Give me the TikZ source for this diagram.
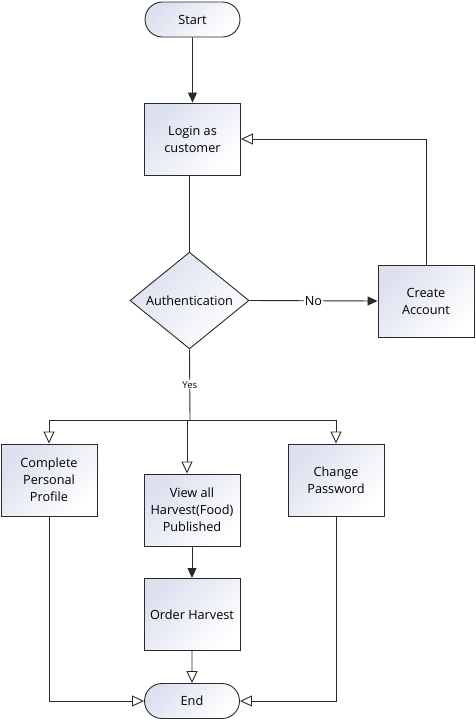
\documentclass[tikz,border=0pt]{standalone}
\usepackage{fontspec}
\setmainfont{Open Sans}
\usetikzlibrary{shapes.misc,shapes.geometric,arrows.meta}
\definecolor{lav}{HTML}{DCE0EF}
\definecolor{ln}{HTML}{2A2A2A}
\tikzset{
  x=1pt,y=-1pt,
  base/.style={draw=ln,line width=0.9pt,shading=axis,left color=lav,right color=white,shading angle=45,font=\fontsize{12.7}{17}\selectfont,align=center,inner sep=0pt},
  procbox/.style={base,rectangle,minimum width=96,minimum height=72},
  term/.style={base,rounded rectangle,minimum width=95,minimum height=35},
  decide/.style={base,diamond,minimum width=119,minimum height=95},
  conn/.style={draw=ln,line width=0.9pt},
  filled/.style={conn,-{Triangle[length=10pt,width=9pt]}},
  hollow/.style={conn,-{Triangle[open,length=12pt,width=11pt,fill=white]}},
  lbl/.style={fill=white,inner sep=1pt}
}
\begin{document}
\begin{tikzpicture}
\useasboundingbox[fill=white] (0,0) rectangle (475,721);
\node[term] (start) at (192.5,19.5) {Start};
\node[procbox] (login) at (192.5,139) {Login as\\customer};
\node[decide] (auth) at (189.5,300.5) {Authentication};
\node[procbox] (create) at (426,301) {Create\\Account};
\node[procbox] (profile) at (49,480) {Complete\\Personal\\Profile};
\node[procbox] (view) at (192,510) {View all\\Harvest(Food)\\Published};
\node[procbox] (change) at (336,480) {Change\\Password};
\node[procbox] (order) at (192,614.5) {Order Harvest};
\node[term] (end) at (192,701) {End};
\coordinate (j) at (190,420);
\coordinate (jl) at (49,420);
\coordinate (jr) at (336,420);
\coordinate (jv) at (187,420);

\draw[filled] (start) -- (login);
\draw[conn] (auth.north |- login.south) -- (auth.north);
\draw[filled] (auth.east) -- node[lbl,font=\fontsize{12.7}{15}\selectfont]{No} (create.west);
\draw[hollow] (create.north) |- (login.east);
\draw[conn] (auth.south) -- node[lbl,pos=0.5,font=\fontsize{9.5}{11}\selectfont]{Yes} (j);
\draw[conn] (jl) -- (jr);
\draw[hollow] (jl) -- (profile.north);
\draw[hollow] (jr) -- (change.north);
\draw[hollow] (jv) -- (jv |- view.north);
\draw[filled] (view) -- (order);
\draw[hollow] (order) -- (end);
\draw[hollow] (profile.south) |- (end.west);
\draw[hollow] (change.south) |- (end.east);
\end{tikzpicture}
\end{document}
